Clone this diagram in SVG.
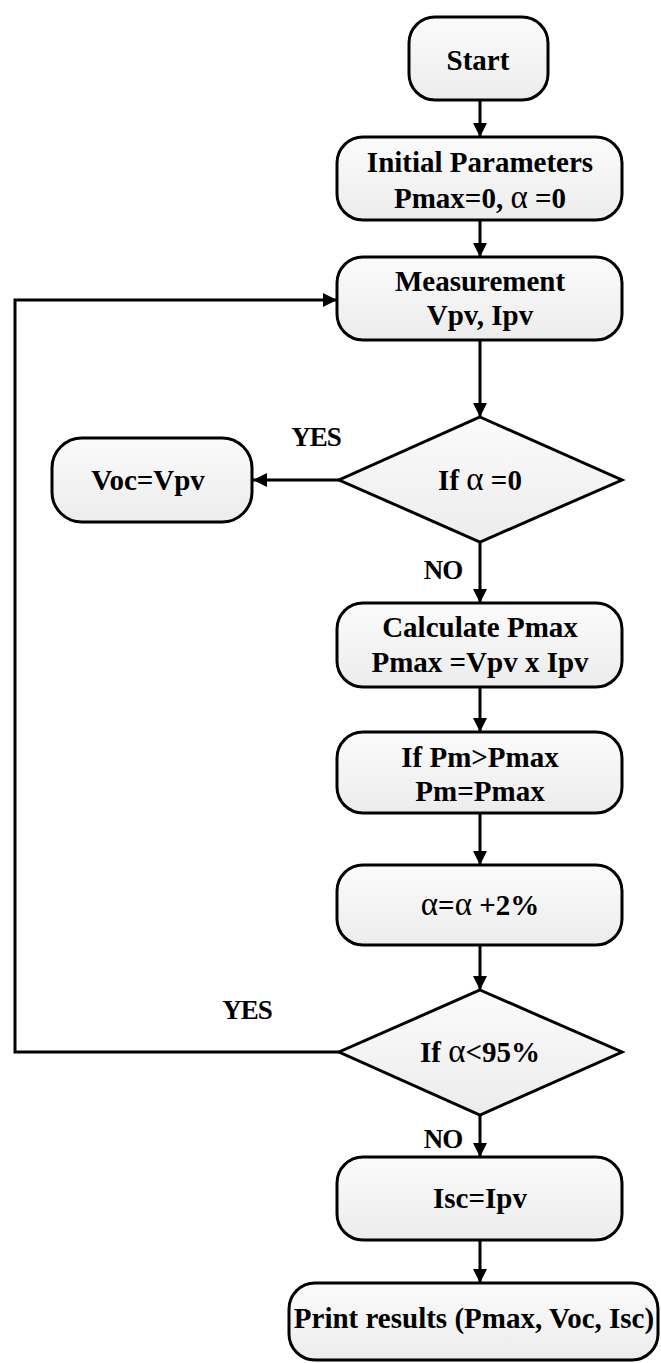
<svg xmlns="http://www.w3.org/2000/svg" width="661" height="1363" viewBox="0 0 661 1363">
<style>
.box{fill:url(#g);stroke:#000;stroke-width:3}
.t{font-family:"Liberation Serif","Times New Roman",serif;font-weight:bold;font-size:29px;text-anchor:middle;fill:#000}
.lbl{font-family:"Liberation Serif","Times New Roman",serif;font-weight:bold;font-size:27px;text-anchor:middle;fill:#000;letter-spacing:-1px}
.a{font-weight:normal;font-size:33px}
.c{fill:none;stroke:#000;stroke-width:3}
</style>
<defs>
<linearGradient id="g" x1="0" y1="0" x2="0" y2="1">
<stop offset="0" stop-color="#fbfbfb"/>
<stop offset="1" stop-color="#ececec"/>
</linearGradient>
<marker id="ah" viewBox="0 0 14 14" refX="14" refY="7" markerWidth="14" markerHeight="14" markerUnits="userSpaceOnUse" orient="auto">
<path d="M0,0 L14,7 L0,14 Z" fill="#000"/>
</marker>
</defs>
<g id="connectors">
<line class="c" x1="480" y1="100" x2="480" y2="137" marker-end="url(#ah)"/>
<line class="c" x1="480" y1="220" x2="480" y2="257" marker-end="url(#ah)"/>
<line class="c" x1="480" y1="340" x2="480" y2="417" marker-end="url(#ah)"/>
<line class="c" x1="339" y1="480" x2="253" y2="480" marker-end="url(#ah)"/>
<line class="c" x1="480" y1="542" x2="480" y2="603" marker-end="url(#ah)"/>
<line class="c" x1="480" y1="687" x2="480" y2="732" marker-end="url(#ah)"/>
<line class="c" x1="480" y1="813" x2="480" y2="865" marker-end="url(#ah)"/>
<line class="c" x1="480" y1="945" x2="480" y2="990" marker-end="url(#ah)"/>
<polyline class="c" points="339,1052 15,1052 15,300 337,300" marker-end="url(#ah)"/>
<line class="c" x1="480" y1="1115" x2="480" y2="1157" marker-end="url(#ah)"/>
<line class="c" x1="480" y1="1240" x2="480" y2="1283" marker-end="url(#ah)"/>
<text class="lbl" x="316" y="446">YES</text>
<text class="lbl" x="443" y="579">NO</text>
<text class="lbl" x="247" y="1019">YES</text>
<text class="lbl" x="443" y="1148">NO</text>
</g>
<g id="start">
<rect class="box" x="409" y="17" width="139" height="83" rx="26"/>
<text class="t" x="478" y="70">Start</text>
</g>
<g id="init">
<rect class="box" x="337" y="137" width="285" height="83" rx="26"/>
<text class="t" x="480" y="172">Initial Parameters</text>
<text class="t" x="480" y="208">Pmax=0, <tspan class="a">α</tspan> =0</text>
</g>
<g id="measure">
<rect class="box" x="337" y="257" width="285" height="83" rx="26"/>
<text class="t" x="480" y="291">Measurement</text>
<text class="t" x="480" y="325">Vpv, Ipv</text>
</g>
<g id="dec1">
<polygon class="box" points="480,417 622,480 480,542 339,480"/>
<text class="t" x="480" y="490">If <tspan class="a">α</tspan> =0</text>
</g>
<g id="voc">
<rect class="box" x="52" y="438" width="200" height="84" rx="30"/>
<text class="t" x="148" y="490">Voc=Vpv</text>
</g>
<g id="calc">
<rect class="box" x="337" y="603" width="285" height="84" rx="26"/>
<text class="t" x="480" y="637">Calculate Pmax</text>
<text class="t" x="480" y="672">Pmax =Vpv x Ipv</text>
</g>
<g id="ifpm">
<rect class="box" x="337" y="732" width="285" height="81" rx="26"/>
<text class="t" x="480" y="767">If Pm&gt;Pmax</text>
<text class="t" x="480" y="801">Pm=Pmax</text>
</g>
<g id="inc">
<rect class="box" x="337" y="865" width="285" height="80" rx="26"/>
<text class="t" x="480" y="915"><tspan class="a">α</tspan>=<tspan class="a">α</tspan> +2%</text>
</g>
<g id="dec2">
<polygon class="box" points="480,990 622,1052 480,1115 339,1052"/>
<text class="t" x="480" y="1062">If <tspan class="a">α</tspan>&lt;95%</text>
</g>
<g id="isc">
<rect class="box" x="337" y="1157" width="285" height="83" rx="26"/>
<text class="t" x="480" y="1208">Isc=Ipv</text>
</g>
<g id="print">
<rect class="box" x="289" y="1283" width="369" height="77" rx="26"/>
<text class="t" x="474" y="1328">Print results (Pmax, Voc, Isc)</text>
</g>
</svg>
